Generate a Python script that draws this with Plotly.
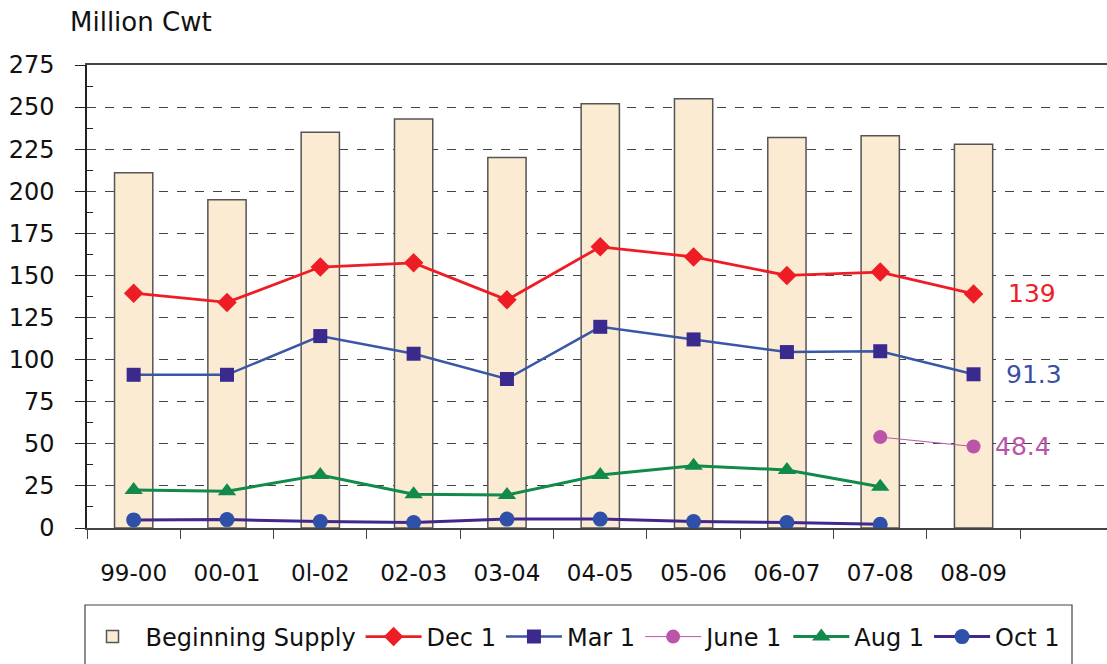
import plotly.graph_objects as go

seasons = ["99-00", "00-01", "0l-02", "02-03", "03-04", "04-05", "05-06", "06-07", "07-08", "08-09"]
beginning_supply = [211, 195, 235, 243, 220, 252, 255, 232, 233, 228]
dec1 = [139.5, 134, 155, 157.5, 135.5, 167, 161, 150, 152, 139]
mar1 = [91, 91, 114, 103.5, 88.5, 119.5, 112, 104.5, 105, 91.3]
june1 = [None, None, None, None, None, None, None, None, 54, 48.4]
aug1 = [22.5, 21.8, 31.5, 20, 19.6, 31.5, 37, 34.5, 24.5, None]
oct1 = [4.8, 5, 3.8, 3.2, 5.3, 5.3, 3.8, 3.3, 2.2, None]
yticks = [0, 25, 50, 75, 100, 125, 150, 175, 200, 225, 250, 275]

x = list(range(len(seasons)))
FONT = "DejaVu Sans"

fig = go.Figure()
fig.add_trace(go.Bar(x=x, y=beginning_supply, name="Beginning Supply", width=0.41,
                     marker=dict(color="#FBEBD2", line=dict(color="#555555", width=1.5))))
fig.add_trace(go.Scatter(x=x, y=dec1, name="Dec 1", mode="lines+markers",
                         line=dict(color="#EE1C24", width=2.8),
                         marker=dict(symbol="diamond", size=15, color="#EE1C24")))
fig.add_trace(go.Scatter(x=x, y=mar1, name="Mar 1", mode="lines+markers",
                         line=dict(color="#3A56A6", width=2.5),
                         marker=dict(symbol="square", size=14, color="#3A2A8E")))
fig.add_trace(go.Scatter(x=x, y=june1, name="June 1", mode="lines+markers",
                         line=dict(color="#BB55AA", width=1),
                         marker=dict(symbol="circle", size=14, color="#BB55AA")))
fig.add_trace(go.Scatter(x=x, y=aug1, name="Aug 1", mode="lines+markers",
                         line=dict(color="#118A4C", width=3),
                         marker=dict(symbol="triangle-up", size=16, color="#118A4C")))
fig.add_trace(go.Scatter(x=x, y=oct1, name="Oct 1", mode="lines+markers",
                         line=dict(color="#41298C", width=3),
                         marker=dict(symbol="circle", size=15, color="#2F50A8")))

labels = [(dec1[9], "139", "#EE1C24", 32), (mar1[9], "91.3", "#3A4FA6", 30), (june1[9], "48.4", "#BB55AA", 19)]
for yv, txt, col, xs in labels:
    fig.add_annotation(x=9, y=yv, text=txt, showarrow=False, xanchor="left", yanchor="middle",
                       xshift=xs, font=dict(family=FONT, size=25, color=col))

fig.add_annotation(xref="paper", yref="paper", x=(68 - 87) / 1020, y=(528 - 22) / 463,
                   text="Million Cwt", showarrow=False, xanchor="left", yanchor="middle",
                   font=dict(family=FONT, size=26, color="#111111"))

# legend box
fig.add_shape(type="rect", xref="paper", yref="paper",
              x0=(85 - 87) / 1020, x1=(1072 - 87) / 1020,
              y0=(528 - 605) / 463, y1=(528 - 680) / 463,
              line=dict(color="#444444", width=1.2), fillcolor="rgba(0,0,0,0)")

fig.update_layout(
    width=1107, height=664,
    margin=dict(l=87, r=0, t=65, b=136, autoexpand=False),
    paper_bgcolor="white", plot_bgcolor="white",
    font=dict(family=FONT, color="#111111"),
    showlegend=True,
    legend=dict(orientation="h", x=(572 - 87) / 1020, xanchor="center",
                y=(528 - 637) / 463, yanchor="middle",
                font=dict(family=FONT, size=24, color="#111111"),
                bgcolor="rgba(0,0,0,0)", itemwidth=56, tracegroupgap=0),
    bargap=0.59,
)
fig.update_xaxes(range=[-0.5, 10.43], tickmode="array", tickvals=x, ticktext=seasons,
                 ticks="", ticklen=0, showgrid=False, zeroline=False, automargin=False,
                 showline=True, linecolor="#444444", linewidth=1.5, mirror=True,
                 tickfont=dict(family=FONT, size=23, color="#111111"),
                 ticklabelstandoff=24,
                 minor=dict(tickmode="linear", tick0=-0.5, dtick=1, ticks="outside",
                            ticklen=9, tickcolor="#444444", tickwidth=1.2, showgrid=False))
fig.update_yaxes(range=[0, 275], tickmode="array", tickvals=yticks,
                 ticks="outside", ticklen=10, tickcolor="#222222", tickwidth=1.2,
                 showgrid=True, gridcolor="#444444", griddash="dash", gridwidth=1,
                 zeroline=False, showline=True, linecolor="#222222", linewidth=1.5,
                 automargin=False,
                 tickfont=dict(family=FONT, size=24, color="#111111"),
                 ticklabelstandoff=16,
                 minor=dict(tickmode="linear", tick0=12.5, dtick=25, ticks="inside",
                            ticklen=6, tickcolor="#222222", tickwidth=1.2, showgrid=False))

fig.write_html("out.html", config={"displayModeBar": False},
               post_script="document.body.style.margin='0';document.body.style.overflow='hidden';")
